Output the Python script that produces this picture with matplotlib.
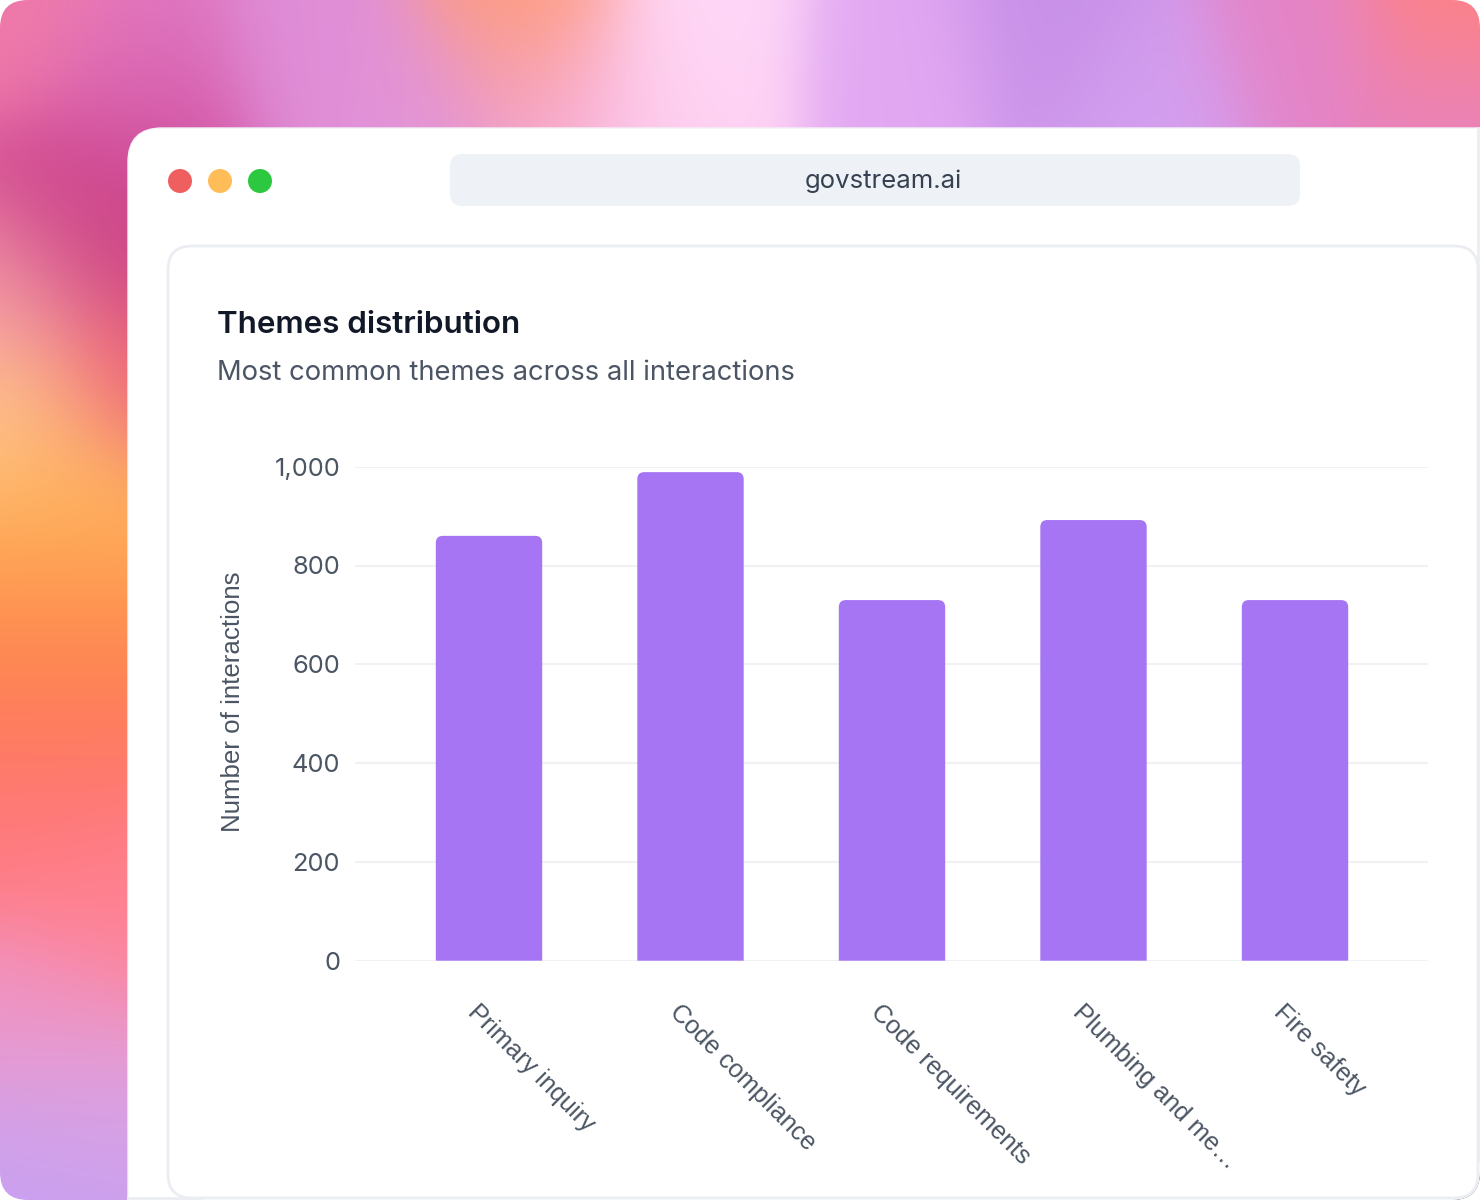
import numpy as np
import matplotlib
matplotlib.use("Agg")
import matplotlib.pyplot as plt
from matplotlib.patches import FancyBboxPatch, Circle, PathPatch
from matplotlib.path import Path
from matplotlib.transforms import ScaledTranslation
from matplotlib.ticker import FuncFormatter

# chart data
themes = ["Primary inquiry", "Code compliance", "Code requirements",
          "Plumbing and me\u2026", "Fire safety"]
counts = [860, 989, 730, 892, 730]
y_ticks = [0, 200, 400, 600, 800, 1000]

title = "Themes distribution"
subtitle = "Most common themes across all interactions"
url = "govstream.ai"
y_label = "Number of interactions"

W, H = 1480, 1200
BAR = "#a675f4"
GRID = "#f0f1f3"
BORDER = "#eaedf2"
TEXT_DARK = "#111827"
TEXT_MID = "#4b5563"

# colour blobs of the decorative backdrop (x, y, colour)
blobs = [
    (20, 30, "#f07aa8"), (140, 60, "#e27cc6"), (150, 115, "#d04c9c"),
    (300, 60, "#e08ed8"), (420, 100, "#e294d8"), (520, 20, "#ff9c78"),
    (560, 100, "#f6a8d2"), (700, 40, "#ffd8f8"), (660, 110, "#ffd0f0"),
    (900, 60, "#e2a8f2"), (1050, 30, "#c890e8"), (1150, 100, "#d4a0f0"),
    (1300, 50, "#e484c8"), (1450, 20, "#ff8282"), (1450, 110, "#e682c0"),
    (70, 190, "#d04890"), (110, 250, "#c84080"), (15, 290, "#f49aa8"),
    (120, 370, "#ee5e76"), (20, 400, "#ffc890"), (60, 480, "#ffb860"),
    (60, 560, "#ffa052"), (60, 650, "#ff8850"), (60, 740, "#ff7860"),
    (60, 830, "#ff7a80"), (100, 910, "#ff8294"),
    (50, 1010, "#f094c4"), (60, 1100, "#daa2e2"), (40, 1180, "#c8a0f2"),
]


def backdrop(step=4, sigma=60.0):
    ys, xs = np.mgrid[0:H:step, 0:W:step].astype(float)
    acc = np.zeros(xs.shape + (3,))
    wsum = np.full(xs.shape, 1e-12)
    for bx, by, c in blobs:
        rgb = np.array(matplotlib.colors.to_rgb(c))
        w = np.exp(-((xs - bx) ** 2 + (ys - by) ** 2) / (2 * sigma ** 2))
        acc += w[..., None] * rgb
        wsum += w
    img = acc / wsum[..., None]
    return np.clip(img, 0, 1)


def top_rounded_bar(x0, w, h, rx, ry):
    x1 = x0 + w
    verts = [(x0, 0), (x0, h - ry), (x0, h), (x0 + rx, h), (x1 - rx, h),
             (x1, h), (x1, h - ry), (x1, 0), (x0, 0)]
    codes = [Path.MOVETO, Path.LINETO, Path.CURVE3, Path.CURVE3, Path.LINETO,
             Path.CURVE3, Path.CURVE3, Path.LINETO, Path.CLOSEPOLY]
    return Path(verts, codes)


fig = plt.figure(figsize=(W / 100, H / 100), dpi=100)
fig.patch.set_facecolor("white")

# decoration layer in pixel coordinates
bg = fig.add_axes([0, 0, 1, 1])
bg.set_xlim(0, W)
bg.set_ylim(H, 0)
bg.axis("off")

frame = FancyBboxPatch((0, 0), W, H, boxstyle="round,pad=0,rounding_size=28",
                       facecolor="none", edgecolor="none")
bg.add_patch(frame)
im = bg.imshow(backdrop(), extent=(0, W, H, 0), interpolation="bilinear", zorder=0)
im.set_clip_path(frame)

# browser window, running off the right and bottom edges
window = FancyBboxPatch((128, 128), W, H,
                        boxstyle="round,pad=0,rounding_size=34",
                        facecolor="white", edgecolor="#f1f3f6", linewidth=1.0, zorder=1)
bg.add_patch(window)
window.set_clip_path(frame)
bg.plot([W - 2, W - 2], [128, H - 40], color=BORDER, lw=2, zorder=1.5)
bg.plot([128, 200], [H - 2, H - 2], color=BORDER, lw=2, zorder=1.5)

for cx, col in zip([180, 220, 260], ["#f05f60", "#ffbd5a", "#2cc840"]):
    bg.add_patch(Circle((cx, 181), 12, facecolor=col, edgecolor="none", zorder=2))

bg.add_patch(FancyBboxPatch((450, 154), 850, 52, boxstyle="round,pad=0,rounding_size=12",
                            facecolor="#eef2f6", edgecolor="none", zorder=2))
bg.text(883, 181, url, ha="center", va="center", fontsize=18.5, family="Inter",
        color="#374151", zorder=3)

card = FancyBboxPatch((168, 246), W - 170, H - 248, boxstyle="round,pad=0,rounding_size=24",
                      facecolor="white", edgecolor=BORDER, linewidth=2, zorder=2)
bg.add_patch(card)

bg.text(217, 333, title, ha="left", va="baseline", fontsize=22.6, family="Inter",
        fontweight="semibold", color=TEXT_DARK, zorder=3)
bg.text(217, 380, subtitle, ha="left", va="baseline", fontsize=19.7, family="Inter",
        color=TEXT_MID, zorder=3)

# chart
ax_l, ax_r, ax_t, ax_b = 355, 1428, 466.7, 960.7
ax = fig.add_axes([ax_l / W, 1 - ax_b / H, (ax_r - ax_l) / W, (ax_b - ax_t) / H])
ax.patch.set_alpha(0)
x = np.arange(len(themes))
ax.set_xlim(-0.665, 4.66)
ax.set_ylim(0, 1000)

bars = ax.bar(x, counts, width=0.528, color=BAR, zorder=2)
p0 = ax.transData.transform((0, 0))
p1 = ax.transData.transform((1, 1))
px_x, px_y = p1[0] - p0[0], p1[1] - p0[1]
r_px = 7
for b in bars:
    b.set_visible(False)
    path = top_rounded_bar(b.get_x(), b.get_width(), b.get_height(), r_px / px_x, r_px / px_y)
    ax.add_patch(PathPatch(path, facecolor=BAR, edgecolor="none", zorder=2))

for s in ax.spines.values():
    s.set_visible(False)
ax.set_yticks(y_ticks)
ax.yaxis.set_major_formatter(FuncFormatter(lambda v, _: f"{int(v):,}"))
ax.grid(axis="y", color=GRID, linewidth=1.5, zorder=0)
ax.tick_params(axis="y", length=0, pad=10.8, labelsize=18.3, labelcolor=TEXT_MID)
for lab in ax.get_yticklabels():
    lab.set_family("Inter")

ax.set_xticks(x)
ax.set_xticklabels(themes, rotation=-45, rotation_mode="anchor", ha="left", va="baseline",
                   fontsize=18.2, color=TEXT_MID, family="Liberation Sans")
ax.tick_params(axis="x", length=0, pad=0)
shift = ScaledTranslation(-0.22, -0.525, fig.dpi_scale_trans)
for lab in ax.get_xticklabels():
    lab.set_transform(lab.get_transform() + shift)

ax.set_ylabel(y_label, fontsize=18.6, color=TEXT_MID, family="Liberation Sans", va="center")
ax.yaxis.set_label_coords((233 - ax_l) / (ax_r - ax_l), (ax_b - 702) / (ax_b - ax_t))

fig.savefig("out.png", dpi=100, facecolor="white")
